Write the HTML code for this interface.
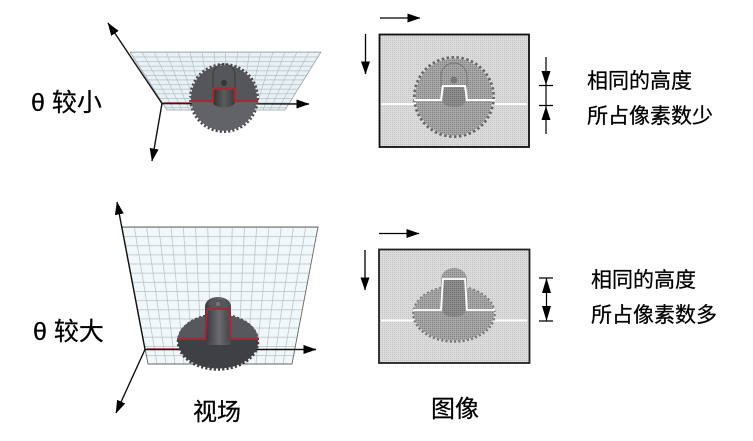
<!DOCTYPE html>
<html lang="zh">
<head>
<meta charset="utf-8">
<style>
html,body{margin:0;padding:0;background:#fff;width:753px;height:441px;overflow:hidden}
svg{display:block;filter:blur(.35px)}
text{font-family:"Liberation Sans","Noto Sans CJK SC",sans-serif;fill:#000;stroke:#000;stroke-width:.25px}
</style>
</head>
<body>
<svg width="753" height="441" viewBox="0 0 753 441" xmlns="http://www.w3.org/2000/svg">
<defs>
<marker id="ab" markerWidth="13" markerHeight="9" refX="12.5" refY="4.5" orient="auto" markerUnits="userSpaceOnUse"><path d="M0 0L13 4.5L0 9Z" fill="#000"/></marker>
<pattern id="dots" width="2" height="2" patternUnits="userSpaceOnUse"><rect width="2" height="2" fill="#dcdcdc"/><rect width="1" height="1" fill="#c2c2c2"/></pattern>
<pattern id="dotsG" width="2" height="2" patternUnits="userSpaceOnUse"><rect width="2" height="2" fill="#a8a8a8"/><rect width="1" height="1" fill="#7c7c7c"/></pattern>
<pattern id="dotsC" width="2" height="2" patternUnits="userSpaceOnUse"><rect width="2" height="2" fill="#8e8e8e"/><rect width="1" height="1" fill="#6c6c6c"/></pattern>
<pattern id="h1" width="10" height="4.6" y="52" patternUnits="userSpaceOnUse"><rect y="0" width="10" height="0.7" fill="#aebcc4"/></pattern>
<pattern id="h2" width="10" height="9.15" y="227" patternUnits="userSpaceOnUse"><rect y="0" width="10" height="0.8" fill="#b9c4cb"/></pattern>
<clipPath id="p1"><path d="M130 52H321L285 110H167Z"/></clipPath>
<clipPath id="p2"><path d="M122 227H318L292 364H148Z"/></clipPath>
<linearGradient id="cyl" x1="0" x2="1" y1="0" y2="0"><stop offset="0" stop-color="#333"/><stop offset=".5" stop-color="#5c5c60"/><stop offset="1" stop-color="#3a3a3a"/></linearGradient>
<linearGradient id="cyl2" x1="0" x2="1" y1="0" y2="0"><stop offset="0" stop-color="#3c3c40"/><stop offset=".55" stop-color="#6a6a70"/><stop offset="1" stop-color="#48484c"/></linearGradient>
</defs>

<!-- upper view -->
<path d="M130 52H321L285 110H167Z" fill="#e9f1f4"/>
<g clip-path="url(#p1)">
<rect x="125" y="52" width="200" height="60" fill="url(#h1)"/>
<path stroke="#b4c0c7" stroke-width=".7" fill="none" d="M142 52L174 110M154 52L182 110M166 52L189 110M178 52L196.500 110M190 52L204 110M202 52L211 110M214 52L219 110M225.500 52L226 110M237.500 52L233 110M249.500 52L241 110M261 52L248 110M273 52L255.500 110M285 52L263 110M297 52L270 110M309 52L278 110"/>
</g>
<path d="M130 52H321L285 110H167Z" fill="none" stroke="#9aa3a8" stroke-width=".8"/>
<line x1="162" y1="103.500" x2="309" y2="104" stroke="#111" stroke-width="1.400" marker-end="url(#ab)"/>
<line x1="164" y1="102.800" x2="190" y2="102.800" stroke="#9b2c34" stroke-width="1"/>
<line x1="162" y1="103.500" x2="108" y2="23" stroke="#111" stroke-width="1.400" marker-end="url(#ab)"/>
<line x1="162" y1="103.500" x2="152" y2="161" stroke="#111" stroke-width="1.400" marker-end="url(#ab)"/>
<circle cx="224" cy="98" r="33.500" fill="none" stroke="#4a4a4d" stroke-width="3" pathLength="100" stroke-dasharray="1 1"/>
<circle cx="224" cy="98" r="32.800" fill="#626367"/>
<path d="M191.200 98A32.800 32.800 0 0 1 256.800 98V101H191.200Z" fill="#55565a"/>
<path d="M213 88V75A11 11 0 0 1 235 75V88" fill="none" stroke="#333" stroke-width=".8"/>
<circle cx="224" cy="83" r="3" fill="#37373a"/>
<path d="M213 88H235V102A11 5.500 0 0 1 213 102Z" fill="url(#cyl)"/>
<path d="M190 101H213V88.500H235V101H258" fill="none" stroke="#a52a35" stroke-width="2.200"/>

<!-- lower view -->
<path d="M122 227H318L292 364H148Z" fill="#f2f7f9"/>
<g clip-path="url(#p2)">
<rect x="120" y="227" width="200" height="140" fill="url(#h2)"/>
<path stroke="#bcc6cc" stroke-width=".8" fill="none" d="M134.250 227L157 364M146.500 227L166 364M158.750 227L175 364M171 227L184 364M183.250 227L193 364M195.500 227L202 364M207.750 227L211 364M220 227L220 364M232.250 227L229 364M244.500 227L238 364M256.750 227L247 364M269 227L256 364M281.250 227L265 364M293.500 227L274 364M305.750 227L283 364"/>
</g>
<path d="M122 227H318L292 364H148Z" fill="none" stroke="#666" stroke-width=".9"/>
<line x1="145" y1="349.500" x2="316" y2="349.500" stroke="#111" stroke-width="1.400" marker-end="url(#ab)"/>
<line x1="147" y1="348.800" x2="180" y2="348.800" stroke="#8c2a32" stroke-width="1"/>
<line x1="145" y1="349.500" x2="117" y2="202" stroke="#111" stroke-width="1.400" marker-end="url(#ab)"/>
<line x1="145" y1="349.500" x2="116" y2="413" stroke="#111" stroke-width="1.400" marker-end="url(#ab)"/>
<ellipse cx="218" cy="342" rx="40" ry="27.500" fill="none" stroke="#3c3c3f" stroke-width="2.500" pathLength="100" stroke-dasharray="1 1"/>
<ellipse cx="218" cy="341.500" rx="40" ry="27" fill="#3f4043"/>
<path d="M178 339A40 24.500 0 0 1 258 339Z" fill="#57585c"/>
<path d="M205 345V307C205 300 212 297 218 297C224 297 231 300 231 307V345Z" fill="url(#cyl2)"/>
<ellipse cx="218" cy="304" rx="9" ry="5" fill="#55565a"/>
<circle cx="218" cy="304" r="2" fill="#777"/>
<path d="M207 340V311H229V340C226 345 210 345 207 340Z" fill="url(#cyl2)"/>
<path d="M177 339H205L207 309H229L231 339H259" fill="none" stroke="#9c2d38" stroke-width="2"/>

<!-- upper image -->
<rect x="379.500" y="34.500" width="149.500" height="112.500" fill="url(#dots)" stroke="#111" stroke-width="1.800"/>
<line x1="381" y1="104" x2="527" y2="104" stroke="#fff" stroke-width="2"/>
<circle cx="454" cy="97" r="39.500" fill="none" stroke="#666" stroke-width="3" pathLength="100" stroke-dasharray="1 1"/>
<circle cx="454" cy="97" r="38.500" fill="url(#dotsG)"/>
<path d="M441 86V76A13 13 0 0 1 467 76V86" fill="none" stroke="#666" stroke-width=".7"/>
<circle cx="454" cy="80" r="3.500" fill="#777"/>
<path d="M443 86H465V102A11 5 0 0 1 443 102Z" fill="url(#dotsC)"/>
<path d="M414 100H441L443 86H465L467 100H495" fill="none" stroke="#fff" stroke-width="2"/>

<!-- lower image -->
<rect x="379" y="249.500" width="150.500" height="113.500" fill="url(#dots)" stroke="#222" stroke-width="1.800"/>
<line x1="381" y1="320.500" x2="527" y2="320.500" stroke="#fff" stroke-width="2"/>
<ellipse cx="454" cy="314" rx="40.500" ry="27.500" fill="none" stroke="#777" stroke-width="2.500" pathLength="100" stroke-dasharray="1 1"/>
<ellipse cx="454" cy="313.500" rx="40" ry="27" fill="url(#dotsG)"/>
<path d="M441 280C441 271 449 268 454 268C459 268 467 271 467 280V311H441Z" fill="url(#dotsG)"/>
<path d="M443 280H465V312A11 5 0 0 1 443 312Z" fill="url(#dotsC)"/>
<path d="M413 310H441L443 279H465L467 310H495" fill="none" stroke="#fff" stroke-width="1.800"/>

<!-- axes arrows near images -->
<line x1="380" y1="18" x2="420" y2="18" stroke="#000" stroke-width="1.300" marker-end="url(#ab)"/>
<line x1="365.500" y1="34" x2="365.500" y2="74" stroke="#000" stroke-width="1.300" marker-end="url(#ab)"/>
<line x1="379" y1="233.500" x2="419" y2="233.500" stroke="#000" stroke-width="1.300" marker-end="url(#ab)"/>
<line x1="365" y1="250" x2="365" y2="290" stroke="#000" stroke-width="1.300" marker-end="url(#ab)"/>

<!-- measures -->
<path d="M539 85.500H553M539 105.500H553M546 57V134M539 278H553M539 321H553M546.500 278V321" stroke="#000" stroke-width="1.200" fill="none"/>
<path d="M541.500 71L550.500 71L546 85ZM541.500 120L550.500 120L546 106ZM542 293L551 293L546.500 278ZM542 306L551 306L546.500 321Z" fill="#000"/>

<!-- labels -->
<text x="31" y="111" font-size="25">θ 较小</text>
<text x="33" y="340" font-size="25">θ 较大</text>
<text x="587" y="88" font-size="21" textLength="105" lengthAdjust="spacingAndGlyphs">相同的高度</text>
<text x="587" y="123" font-size="21" textLength="126" lengthAdjust="spacingAndGlyphs">所占像素数少</text>
<text x="591" y="287" font-size="21" textLength="105" lengthAdjust="spacingAndGlyphs">相同的高度</text>
<text x="591" y="322" font-size="21" textLength="126" lengthAdjust="spacingAndGlyphs">所占像素数多</text>
<text x="193" y="420" font-size="24">视场</text>
<text x="431" y="417" font-size="24">图像</text>
</svg>
</body>
</html>
